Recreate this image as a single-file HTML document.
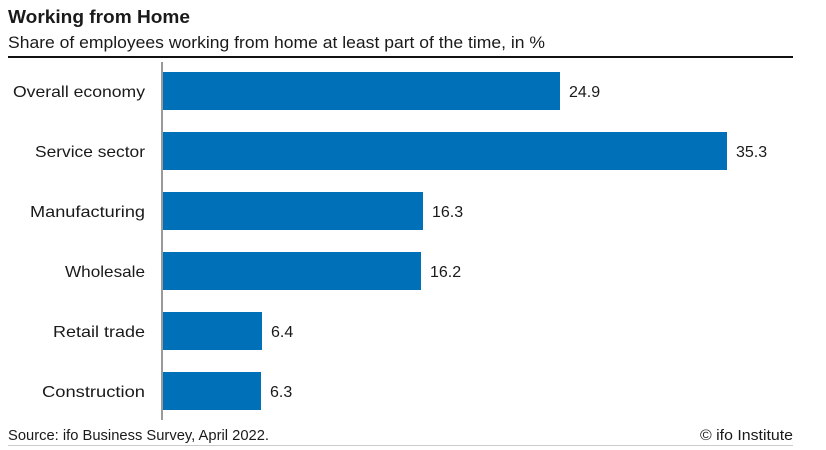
<!DOCTYPE html>
<html><head><style>body{margin:0;background:#fff}svg{display:block}text{font-family:"Liberation Sans",sans-serif;fill:#1a1a1a}</style></head>
<body>
<svg width="826" height="450" viewBox="0 0 826 450">
<text x="8" y="23" font-size="18" font-weight="bold" textLength="182" lengthAdjust="spacingAndGlyphs">Working from Home</text>
<text x="8" y="48" font-size="16.5" textLength="537" lengthAdjust="spacingAndGlyphs">Share of employees working from home at least part of the time, in %</text>
<rect x="8" y="56" width="785" height="2" fill="#111"/>
<rect x="161.5" y="62" width="1" height="358" fill="#333"/>
<g fill="#0070b8">
<rect x="163" y="72" width="397" height="38"/>
<rect x="163" y="132" width="564" height="38"/>
<rect x="163" y="192" width="260" height="38"/>
<rect x="163" y="252" width="258" height="38"/>
<rect x="163" y="312" width="99" height="38"/>
<rect x="163" y="372" width="98" height="38"/>
</g>
<g font-size="16" text-anchor="end">
<text x="145" y="97" textLength="132" lengthAdjust="spacingAndGlyphs">Overall economy</text>
<text x="145" y="157" textLength="110" lengthAdjust="spacingAndGlyphs">Service sector</text>
<text x="145" y="217" textLength="115" lengthAdjust="spacingAndGlyphs">Manufacturing</text>
<text x="145" y="277" textLength="80" lengthAdjust="spacingAndGlyphs">Wholesale</text>
<text x="145" y="337" textLength="92" lengthAdjust="spacingAndGlyphs">Retail trade</text>
<text x="145" y="397" textLength="103" lengthAdjust="spacingAndGlyphs">Construction</text>
</g>
<g font-size="16">
<text x="569" y="97">24.9</text>
<text x="736" y="157">35.3</text>
<text x="432" y="217">16.3</text>
<text x="430" y="277">16.2</text>
<text x="271" y="337">6.4</text>
<text x="270" y="397">6.3</text>
</g>
<text x="8" y="440" font-size="14.5" textLength="261" lengthAdjust="spacingAndGlyphs">Source: ifo Business Survey, April 2022.</text>
<text x="793" y="440" font-size="14.5" text-anchor="end" textLength="93" lengthAdjust="spacingAndGlyphs">© ifo Institute</text>
<rect x="8" y="445" width="785" height="1" fill="#ccc"/>
</svg>
</body></html>
